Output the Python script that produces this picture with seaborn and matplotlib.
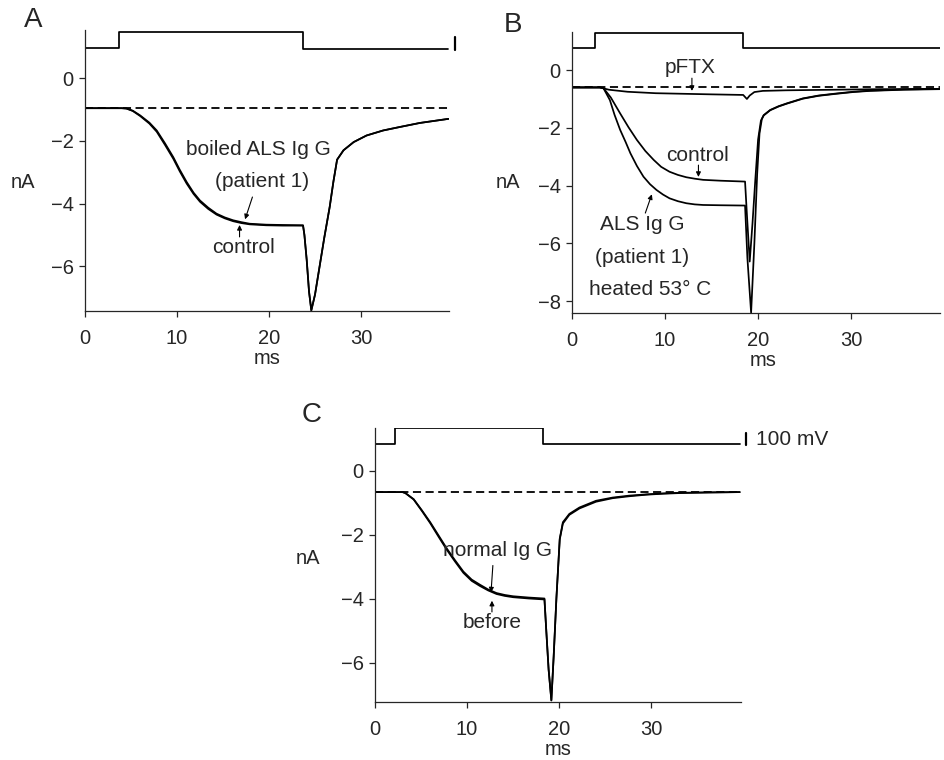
import matplotlib
matplotlib.use("Agg")
import matplotlib.pyplot as plt
import seaborn as sns

# ---- data (time in ms, current in nA) ----
xticks = [0, 10, 20, 30]

# panel A
a_time = [0, 4.0, 4.5, 5.2, 6.0, 7.0, 7.8, 8.7, 9.6, 10.3, 11.05, 11.8, 12.5, 13.4,
          14.3, 15.2, 16.1, 17.0, 17.9, 19.7, 21.5, 23.7, 23.85, 24.1, 24.35, 24.6,
          25.0, 25.5, 26.0, 26.6, 27.0, 27.4, 28.1, 29.2, 30.6, 32.4, 34.2, 36.4, 39.5]
a_control = [-0.96, -0.96, -0.97, -1.04, -1.19, -1.42, -1.67, -2.08, -2.52, -2.92, -3.31,
             -3.65, -3.90, -4.13, -4.32, -4.44, -4.53, -4.59, -4.64, -4.67, -4.68, -4.69,
             -5.0, -5.8, -6.8, -7.40, -6.9, -6.0, -5.1, -4.1, -3.3, -2.6, -2.3, -2.04,
             -1.83, -1.67, -1.56, -1.43, -1.30]
a_boiled = [-0.96, -0.96, -0.97, -1.05, -1.21, -1.45, -1.71, -2.13, -2.57, -2.97, -3.36,
            -3.69, -3.94, -4.17, -4.35, -4.47, -4.56, -4.62, -4.66, -4.69, -4.70, -4.70,
            -5.0, -5.8, -6.8, -7.40, -6.9, -6.0, -5.1, -4.1, -3.3, -2.6, -2.3, -2.04,
            -1.83, -1.67, -1.56, -1.43, -1.30]
a_baseline = -0.96
a_step_t = [0, 3.7, 23.7, 39.5]
a_step_v = [0.96, 1.47, 0.92, 0.92]

# panel B
b_time = [0, 3.0, 3.4, 4.2, 5.2, 6.1, 7.0, 7.9, 8.8, 9.6, 10.5, 11.4, 12.3, 13.2, 14.1,
          16.0, 18.6, 18.8, 19.1, 19.4, 19.7, 20.0, 20.3, 20.6, 21.3, 22.2, 23.1, 24.8,
          26.5, 28.4, 30.2, 32.0, 35.6, 39.5]
b_control = [-0.6, -0.6, -0.62, -0.95, -1.5, -1.98, -2.42, -2.80, -3.11, -3.35, -3.52,
             -3.63, -3.71, -3.76, -3.80, -3.83, -3.86, -5.0, -6.63, -5.3, -3.8, -2.4,
             -1.75, -1.56, -1.38, -1.25, -1.15, -0.98, -0.88, -0.81, -0.75, -0.71, -0.67,
             -0.65]
b_als_time = [0, 3.0, 3.4, 4.1, 4.6, 5.2, 5.8, 6.3, 7.0, 7.7, 8.4, 9.1, 9.8, 10.5, 11.4,
              12.3, 13.2, 14.1, 16.0, 18.6, 18.85, 19.25, 19.6, 19.9, 20.15, 20.4, 20.6,
              21.3, 22.2, 23.1, 24.8, 26.5, 28.4, 30.2, 32.0, 35.6, 39.5]
b_als = [-0.6, -0.6, -0.62, -1.04, -1.55, -2.07, -2.5, -2.88, -3.32, -3.69, -3.95, -4.15,
         -4.31, -4.44, -4.54, -4.61, -4.65, -4.67, -4.68, -4.69, -6.5, -8.4, -6.0, -3.6,
         -2.2, -1.7, -1.57, -1.39, -1.26, -1.16, -0.99, -0.89, -0.82, -0.76, -0.72, -0.68,
         -0.66]
b_pftx_time = [0, 3.0, 4.0, 6.0, 9.0, 12.0, 15.0, 18.4, 18.8, 19.1, 19.6, 20.5, 23.0,
               28.0, 33.0, 39.5]
b_pftx = [-0.6, -0.6, -0.68, -0.75, -0.80, -0.82, -0.84, -0.86, -1.0, -0.88, -0.76,
          -0.72, -0.70, -0.68, -0.66, -0.65]
b_baseline = -0.58
b_step_t = [0, 2.5, 18.4, 39.5]
b_step_v = [0.78, 1.30, 0.78, 0.78]

# panel C
c_time = [0, 3.0, 3.3, 4.2, 5.1, 6.0, 6.9, 7.8, 8.7, 9.6, 10.5, 11.4, 12.3, 13.2, 14.1,
          15.0, 16.7, 18.4, 18.6, 18.85, 19.15, 19.4, 19.7, 20.06, 20.4, 21.1, 22.2,
          24.0, 25.8, 27.6, 29.5, 31.3, 33.1, 36.3, 39.6]
c_before = [-0.67, -0.67, -0.70, -0.89, -1.24, -1.61, -2.02, -2.43, -2.80, -3.15, -3.40,
            -3.56, -3.71, -3.82, -3.88, -3.92, -3.96, -3.99, -5.0, -6.2, -7.17, -5.8,
            -3.97, -2.12, -1.61, -1.35, -1.15, -0.94, -0.84, -0.78, -0.74, -0.71, -0.69,
            -0.68, -0.67]
c_normal = [-0.67, -0.67, -0.70, -0.90, -1.26, -1.64, -2.06, -2.47, -2.84, -3.19, -3.44,
            -3.60, -3.74, -3.85, -3.91, -3.95, -3.99, -4.02, -5.0, -6.2, -7.17, -5.8,
            -3.97, -2.15, -1.65, -1.38, -1.18, -0.97, -0.86, -0.80, -0.75, -0.72, -0.70,
            -0.68, -0.67]
c_baseline = -0.67
c_step_t = [0, 2.2, 18.25, 39.6]
c_step_v = [0.83, 1.32, 0.83, 0.83]

sns.set_style("ticks")
plt.rcParams['font.family'] = ['Liberation Sans', 'DejaVu Sans']
plt.rcParams['axes.linewidth'] = 0.9

fig = plt.figure(figsize=(9.44, 7.6), dpi=100)
ax_a = fig.add_axes([0.090, 0.5908, 0.386, 0.3697])
ax_b = fig.add_axes([0.6056, 0.5878, 0.390, 0.3705])
ax_c = fig.add_axes([0.3972, 0.0763, 0.3874, 0.3601])

LW = 1.25
FS = 15
arrow = dict(arrowstyle='-|>', color='black', lw=0.8, mutation_scale=7, shrinkA=0, shrinkB=0)


def trace(ax, t, y, lw=LW):
    sns.lineplot(x=t, y=y, ax=ax, color='black', lw=lw, sort=False, estimator=None)


def setup(ax, xmax, ylim, yticks, xlab_xy, ylab_xy):
    ax.set_xlim(0, xmax)
    ax.set_ylim(*ylim)
    ax.set_xticks(xticks)
    ax.set_yticks(yticks)
    ax.tick_params(axis='x', length=4, width=0.9, pad=9, labelsize=14.5)
    ax.tick_params(axis='y', length=4, width=0.9, pad=4, labelsize=14.5)
    sns.despine(ax=ax)
    ax.set_xlabel('ms', fontsize=14.5)
    ax.xaxis.set_label_coords(*xlab_xy)
    ax.set_ylabel('nA', fontsize=14.5, rotation=0, ha='center', va='center')
    ax.yaxis.set_label_coords(*ylab_xy)


def steps(ax, t, v):
    sns.lineplot(x=t, y=v, ax=ax, color='black', lw=LW, sort=False, estimator=None,
                 drawstyle='steps-post')


def dashed(ax, y, xmax):
    ax.plot([0, xmax], [y, y], color='black', lw=1.3, dashes=(4.5, 2.5))


# ---- panel A ----
steps(ax_a, a_step_t, a_step_v)
dashed(ax_a, a_baseline, 39.5)
trace(ax_a, a_time, a_control)
trace(ax_a, a_time, a_boiled)
ax_a.plot([40.2, 40.2], [0.89, 1.31], color='black', lw=1.6, clip_on=False)
setup(ax_a, 39.6, (-7.42, 1.53), [0, -2, -4, -6], (0.5, -0.134), (-0.170, 0.456))
ax_a.text(18.8, -2.29, 'boiled ALS Ig G', fontsize=FS, ha='center', va='center')
ax_a.text(19.3, -3.28, '(patient 1)', fontsize=FS, ha='center', va='center')
ax_a.annotate('', xy=(17.4, -4.5), xytext=(18.2, -3.79), arrowprops=arrow)
ax_a.text(17.2, -5.41, 'control', fontsize=FS, ha='center', va='center')
ax_a.annotate('', xy=(16.8, -4.68), xytext=(16.8, -5.06), arrowprops=arrow)

# ---- panel B ----
steps(ax_b, b_step_t, b_step_v)
dashed(ax_b, b_baseline, 39.5)
trace(ax_b, b_pftx_time, b_pftx)
trace(ax_b, b_time, b_control)
trace(ax_b, b_als_time, b_als)
setup(ax_b, 39.5, (-8.42, 1.33), [0, -2, -4, -6, -8], (0.52, -0.134), (-0.173, 0.463))
ax_b.text(12.7, 0.10, 'pFTX', fontsize=FS, ha='center', va='center')
ax_b.annotate('', xy=(12.9, -0.72), xytext=(12.9, -0.28), arrowprops=arrow)
ax_b.text(13.5, -2.94, 'control', fontsize=FS, ha='center', va='center')
ax_b.annotate('', xy=(13.6, -3.70), xytext=(13.6, -3.29), arrowprops=arrow)
ax_b.text(7.6, -5.36, 'ALS Ig G', fontsize=FS, ha='center', va='center')
ax_b.text(7.6, -6.50, '(patient 1)', fontsize=FS, ha='center', va='center')
ax_b.text(8.4, -7.60, 'heated 53° C', fontsize=FS, ha='center', va='center')
ax_b.annotate('', xy=(8.6, -4.30), xytext=(7.9, -4.95), arrowprops=arrow)

# ---- panel C ----
steps(ax_c, c_step_t, c_step_v)
dashed(ax_c, c_baseline, 39.6)
trace(ax_c, c_time, c_before)
trace(ax_c, c_time, c_normal)
ax_c.plot([40.3, 40.3], [0.80, 1.17], color='black', lw=1.6, clip_on=False)
ax_c.text(41.4, 0.97, '100 mV', fontsize=FS, ha='left', va='center', clip_on=False)
setup(ax_c, 39.7, (-7.22, 1.32), [0, -2, -4, -6], (0.5, -0.138), (-0.183, 0.524))
ax_c.text(13.3, -2.5, 'normal Ig G', fontsize=FS, ha='center', va='center')
ax_c.annotate('', xy=(12.6, -3.80), xytext=(12.8, -2.96), arrowprops=arrow)
ax_c.text(12.7, -4.75, 'before', fontsize=FS, ha='center', va='center')
ax_c.annotate('', xy=(12.7, -4.06), xytext=(12.7, -4.41), arrowprops=arrow)

# panel letters
fig.text(0.035, 0.974, 'A', fontsize=20, ha='center', va='center')
fig.text(0.543, 0.967, 'B', fontsize=20, ha='center', va='center')
fig.text(0.330, 0.454, 'C', fontsize=20, ha='center', va='center')

fig.savefig('out.png', dpi=100)
